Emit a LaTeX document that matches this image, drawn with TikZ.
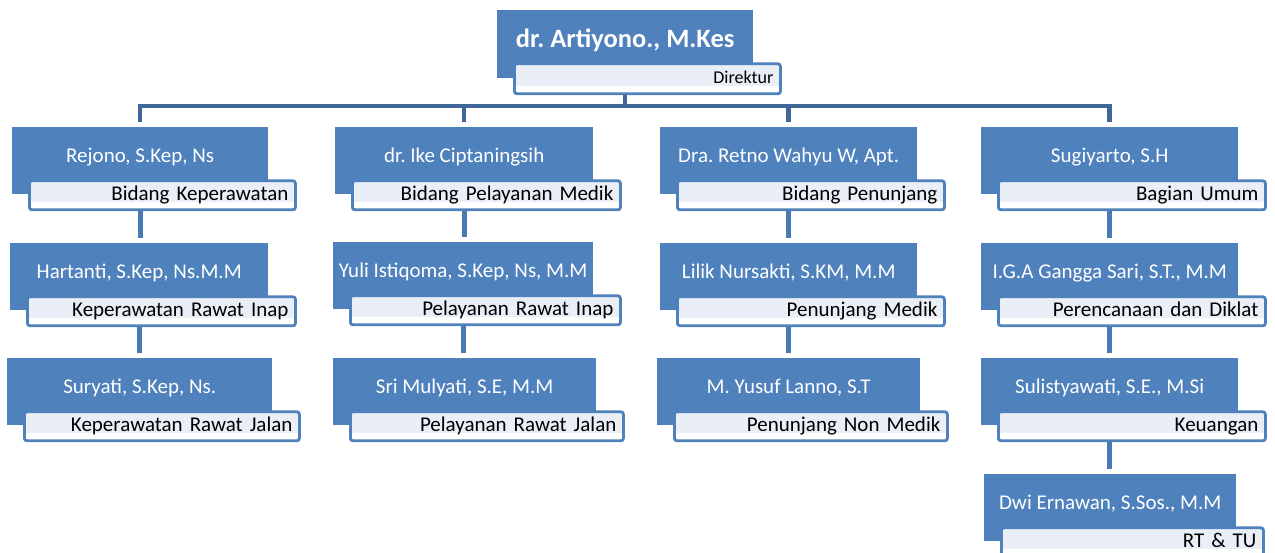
\documentclass[tikz,border=0pt]{standalone}
\usepackage{fontspec}
\setmainfont{Carlito}
\usetikzlibrary{calc}
\frenchspacing
\definecolor{boxblue}{HTML}{4F81BD}
\definecolor{barblue}{HTML}{3F6898}
\definecolor{lineblue}{HTML}{4A7AB4}
\definecolor{lightfill}{HTML}{E9EEF7}
\tikzset{
  pbox/.style={fill=boxblue, draw=none, minimum height=67pt, inner sep=0pt, anchor=north west},
  ptext/.style={text=white, font=\fontsize{21}{24}\selectfont, anchor=base, inner sep=0pt},
  dtext/.style={text=white, font=\bfseries\fontsize{26.5}{30}\selectfont, anchor=base, inner sep=0pt},
  lbox/.style={draw=boxblue, line width=2.8pt, rounded corners=2.5pt, fill=lightfill,
    minimum height=29pt, inner ysep=0pt, inner xsep=7pt, text height=15pt, text depth=4pt,
    align=right, anchor=north west, font=\fontsize{21}{24}\selectfont,
    path picture={\fill[white] (path picture bounding box.south west) rectangle ([yshift=8pt]path picture bounding box.south east);}},
  conn/.style={draw=lineblue, line width=5pt},
  barline/.style={draw=barblue, line width=4.5pt},
}
\newcommand\person[6]{%
  \node[pbox, minimum width=#4pt] (b#1) at (#2,#3) {};
  \node[ptext] (t#1) at ($(b#1.north)+(0,35)$) {#5};
  \pgfmathsetmacro\tw{#4-4}%
  \node[lbox, text width=\tw pt] (l#1) at ($(b#1.south west)+(16,-15)$) {#6};
}
\begin{document}
\begin{tikzpicture}[x=1pt,y=-1pt]
\useasboundingbox (0,0) rectangle (1275,552);
% director
\node[pbox, minimum width=256pt, minimum height=68pt] (b0) at (497,10) {};
\node[dtext] (t0) at ($(b0.north)+(0,37)$) {dr. Artiyono., M.Kes};
\node[lbox, text width=252pt, minimum height=30pt, font=\fontsize{18}{20}\selectfont, text height=13pt, text depth=4pt] (l0) at ($(b0.south west)+(16,-16)$) {Direktur};
% people
\person{11}{12}{127}{256}{Rejono, S.Kep, Ns}{Bidang Keperawatan}
\person{12}{10}{243}{258}{Hartanti, S.Kep, Ns.M.M}{Keperawatan Rawat Inap}
\person{13}{7}{358}{265}{Suryati, S.Kep, Ns.}{Keperawatan Rawat Jalan}
\person{21}{335}{127}{258}{dr. Ike Ciptaningsih}{Bidang Pelayanan Medik}
\person{22}{333}{242}{260}{Yuli Istiqoma, S.Kep, Ns, M.M}{Pelayanan Rawat Inap}
\person{23}{333}{358}{263}{Sri Mulyati, S.E, M.M}{Pelayanan Rawat Jalan}
\person{31}{660}{127}{257}{Dra. Retno Wahyu W, Apt.}{Bidang Penunjang}
\person{32}{660}{243}{257}{Lilik Nursakti, S.KM, M.M}{Penunjang Medik}
\person{33}{657}{358}{263}{M. Yusuf Lanno, S.T}{Penunjang Non Medik}
\person{41}{981}{127}{257}{Sugiyarto, S.H}{Bagian Umum}
\person{42}{981}{243}{257}{I.G.A Gangga Sari, S.T., M.M}{Perencanaan dan Diklat}
\person{43}{981}{358}{257}{Sulistyawati, S.E., M.Si}{Keuangan}
\person{44}{984}{474}{252}{Dwi Ernawan, S.Sos., M.M}{RT \& TU}
% top connectors
\coordinate (jy) at (0,106);
\coordinate (j) at (b0 |- jy);
\draw[barline] (b0 |- l0.south) -- (j);
\draw[barline] (j) -| ($(b11.north)+(0,-5)$);
\draw[barline] (j) -| ($(b21.north)+(0,-5)$);
\draw[barline] (j) -| ($(b31.north)+(0,-5)$);
\draw[barline] (j) -| ($(b41.north)+(0,-5)$);
% column connectors
\draw[conn] (b11 |- l11.south) -- ($(b11 |- b12.north)+(0,-5)$);
\draw[conn] (b12 |- l12.south) -- ($(b12 |- b13.north)+(0,-5)$);
\draw[conn] (b21 |- l21.south) -- ($(b21 |- b22.north)+(0,-5)$);
\draw[conn] (b22 |- l22.south) -- ($(b22 |- b23.north)+(0,-5)$);
\draw[conn] (b31 |- l31.south) -- ($(b31 |- b32.north)+(0,-5)$);
\draw[conn] (b32 |- l32.south) -- ($(b32 |- b33.north)+(0,-5)$);
\draw[conn] (b41 |- l41.south) -- ($(b41 |- b42.north)+(0,-5)$);
\draw[conn] (b42 |- l42.south) -- ($(b42 |- b43.north)+(0,-5)$);
\draw[conn] (b43 |- l43.south) -- ($(b43 |- b44.north)+(0,-5)$);
\end{tikzpicture}
\end{document}
